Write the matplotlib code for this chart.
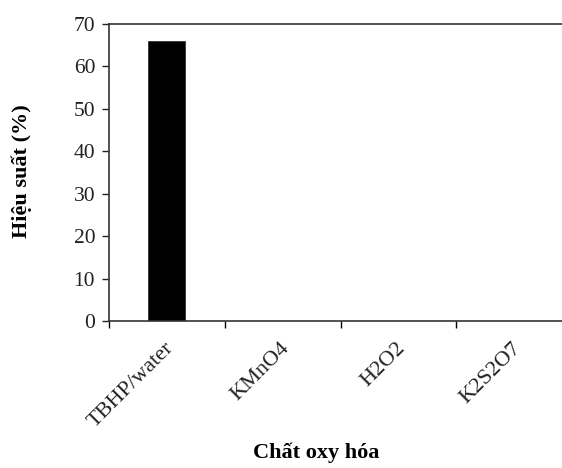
import matplotlib
matplotlib.use("Agg")
import matplotlib.pyplot as plt
from matplotlib.transforms import ScaledTranslation

# Yields by oxidant
oxidants = ["TBHP/water", "KMnO4", "H2O2", "K2S2O7"]
yields = [66, 0, 0, 0]
y_ticks = [0, 10, 20, 30, 40, 50, 60, 70]

plt.rcParams["font.family"] = ["Liberation Serif", "DejaVu Serif"]

fig = plt.figure(figsize=(5.62, 4.68), dpi=100)
# axes runs a little past the right edge of the figure
ax = fig.add_axes([0.194, 0.314, 0.824, 0.635])

x = list(range(len(oxidants)))
ax.bar(x, yields, width=0.32, color="black", edgecolor="#333333", linewidth=0.6)

ax.set_xlim(-0.5, len(oxidants) - 0.5)
ax.set_ylim(0, 70)
ax.set_yticks(y_ticks)
ax.tick_params(axis="y", direction="out", length=5, width=1, pad=5,
               labelsize=15.5, colors="#222222")

# tick marks sit between categories, labels sit under each category
ax.set_xticks([i - 0.5 for i in range(len(oxidants) + 1)])
ax.set_xticklabels([])
ax.tick_params(axis="x", which="major", direction="out", length=5, width=1)
ax.set_xticks(x, minor=True)
ax.set_xticklabels(oxidants, minor=True, rotation=45, ha="right",
                   rotation_mode="anchor", fontsize=16, color="#222222")
ax.tick_params(axis="x", which="minor", length=0, pad=13)
shift = ScaledTranslation(-0.03, 0, fig.dpi_scale_trans)
for lbl in ax.get_xticklabels(minor=True):
    lbl.set_transform(lbl.get_transform() + shift)

for side in ["left", "top", "bottom"]:
    ax.spines[side].set_color("#333333")
    ax.spines[side].set_linewidth(1.2)
ax.spines["right"].set_visible(False)

fig.text(0.038, 0.634, "Hiệu suất (%)", rotation=90, ha="center", va="center",
         fontsize=16, fontweight="bold")
fig.text(0.563, 0.033, "Chất oxy hóa", ha="center", va="center",
         fontsize=16, fontweight="bold")

fig.savefig("out.png", dpi=100)
